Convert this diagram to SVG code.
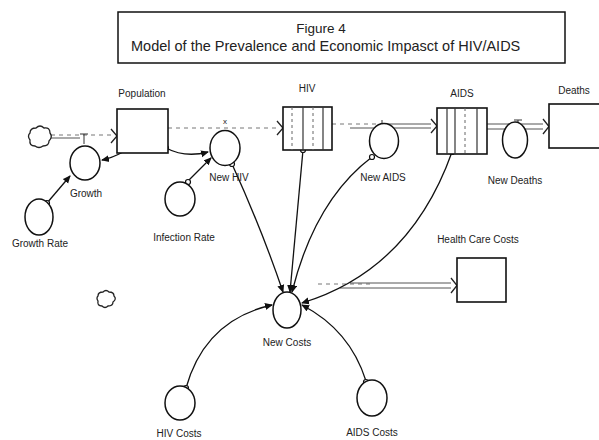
<svg xmlns="http://www.w3.org/2000/svg" width="599" height="440" viewBox="0 0 599 440">
<style>
text{font-family:"Liberation Sans",Arial,sans-serif;fill:#222}
.lbl{font-size:10px;text-anchor:middle}
.stock{fill:#fff;stroke:#111;stroke-width:1.6}
.aux{fill:#fff;stroke:#111;stroke-width:1.5}
.cv{stroke:#333;stroke-width:1.2}
.cvd{stroke:#666;stroke-width:1;stroke-dasharray:3 3}
.con{fill:none;stroke:#111;stroke-width:1.3;marker-end:url(#ah)}
.dot{fill:#fff;stroke:#111;stroke-width:1.2}
.pipe{fill:none;stroke:#555;stroke-width:1}
.pd{fill:none;stroke:#777;stroke-width:1;stroke-dasharray:4 4}
.ph{fill:#fff;stroke:#222;stroke-width:1.3}
.cloud{fill:#fff;stroke:#222;stroke-width:1.3}
</style>
<defs>
<marker id="ah" markerWidth="8" markerHeight="8" refX="7" refY="4" orient="auto" markerUnits="userSpaceOnUse">
<path d="M0,0.5 L8,4 L0,7.5 Z" fill="#111"/>
</marker>
</defs>

<g id="title">
<rect x="118" y="12" width="447" height="51" fill="#fff" stroke="#111" stroke-width="1.5"/>
<text x="321" y="33" font-size="13.5" text-anchor="middle">Figure 4</text>
<text x="131" y="51" font-size="14.5">Model of the Prevalence and Economic Impasct of HIV/AIDS</text>
</g>

<g id="flows">
<line class="pd" x1="51" y1="135" x2="112" y2="135"/>
<line class="pipe" x1="51" y1="138" x2="80" y2="138"/>
<path class="ph" d="M111,129 L117,136 L111,143"/>
<line x1="84" y1="134" x2="84" y2="144" stroke="#333"/>
<line x1="80" y1="134" x2="88" y2="134" stroke="#333"/>
<line class="pd" x1="168" y1="128" x2="277" y2="128"/>
<path class="ph" d="M277,121 L283,128 L277,135"/>
<text x="225" y="124" font-size="8" text-anchor="middle">x</text>
<line class="pd" x1="332" y1="124" x2="380" y2="124"/>
<line class="pipe" x1="380" y1="124" x2="431" y2="124"/>
<line class="pipe" x1="350" y1="128" x2="431" y2="128"/>
<path class="ph" d="M431,119 L437,126 L431,133"/>
<line x1="382" y1="120" x2="382" y2="126" stroke="#333"/>
<line class="pipe" x1="487" y1="124" x2="543" y2="124"/>
<line class="pipe" x1="487" y1="129" x2="543" y2="129"/>
<path class="ph" d="M543,119 L549,126.5 L543,134"/>
<line x1="518" y1="120" x2="518" y2="124" stroke="#333"/>
<line x1="514" y1="120" x2="522" y2="120" stroke="#333"/>
<line class="pd" x1="318" y1="284" x2="370" y2="284"/>
<line class="pipe" x1="350" y1="283" x2="451" y2="283"/>
<line class="pipe" x1="340" y1="288" x2="451" y2="288"/>
<path class="ph" d="M451,278 L457,285.5 L451,293"/>
</g>

<g id="clouds">
<path class="cloud" d="M36,128 q4,-4 8,0 q6,-1 6,5 q3,4 -1,8 q0,5 -6,5 q-4,3 -8,0 q-6,0 -5,-6 q-3,-4 0,-7 q0,-5 6,-5 z"/>
<path class="cloud" d="M103,292 q3,-3 6,0 q5,0 5,4 q3,3 -1,6 q0,4 -5,4 q-3,3 -6,0 q-5,0 -4,-5 q-2,-3 0,-5 q0,-4 5,-4 z"/>
</g>

<g id="connectors">
<path class="con" d="M47,203 L70,176"/>
<path class="con" d="M123,152 Q112,158 102,160"/>
<path class="con" d="M166,148 Q185,158 208,152"/>
<path class="con" d="M187,182 L211,158"/>
<path class="con" d="M232,164 Q262,230 283,292"/>
<path class="con" d="M303,150 L290,292"/>
<path class="con" d="M372,157 Q315,200 292,292"/>
<path class="con" d="M452,152 Q410,270 302,303"/>
<path class="con" d="M186,388 Q205,320 272,305"/>
<path class="con" d="M366,381 Q350,330 302,305"/>
<circle class="dot" cx="47" cy="203" r="2.5"/>
<circle class="dot" cx="123" cy="150" r="2.5"/>
<circle class="dot" cx="166" cy="148" r="2.5"/>
<circle class="dot" cx="188" cy="182" r="2.5"/>
<circle class="dot" cx="232" cy="164" r="2.5"/>
<circle class="dot" cx="303" cy="150" r="2.5"/>
<circle class="dot" cx="372" cy="157" r="2.5"/>
<circle class="dot" cx="452" cy="152" r="2.5"/>
<circle class="dot" cx="186" cy="388" r="2.5"/>
<circle class="dot" cx="366" cy="382" r="2.5"/>
</g>

<g id="population">
<rect class="stock" x="117" y="109" width="51" height="44"/>
<text class="lbl" x="142" y="97">Population</text>
</g>
<g id="hiv">
<rect class="stock" x="283" y="107" width="49" height="43"/>
<line class="cvd" x1="292" y1="107" x2="292" y2="150"/>
<line class="cv" x1="303" y1="107" x2="303" y2="150"/>
<line class="cvd" x1="313" y1="107" x2="313" y2="150"/>
<line class="cv" x1="323" y1="107" x2="323" y2="150"/>
<text class="lbl" x="307" y="92">HIV</text>
</g>
<g id="aids">
<rect class="stock" x="437" y="108" width="50" height="46"/>
<line class="cv" x1="447" y1="108" x2="447" y2="154"/>
<line class="cv" x1="455" y1="108" x2="455" y2="154"/>
<line class="cvd" x1="465" y1="108" x2="465" y2="154"/>
<line class="cv" x1="477" y1="108" x2="477" y2="154"/>
<text class="lbl" x="462" y="97">AIDS</text>
</g>
<g id="deaths">
<rect class="stock" x="549" y="104" width="60" height="44"/>
<text class="lbl" x="574" y="94">Deaths</text>
</g>
<g id="health-care-costs">
<rect class="stock" x="457" y="258" width="49" height="44"/>
<text class="lbl" x="478" y="243">Health Care Costs</text>
</g>

<g id="growth">
<ellipse class="aux" cx="85" cy="163" rx="15" ry="17"/>
<text class="lbl" x="86" y="197">Growth</text>
</g>
<g id="growth-rate">
<ellipse class="aux" cx="39" cy="217" rx="14" ry="18"/>
<text class="lbl" x="40" y="247">Growth Rate</text>
</g>
<g id="new-hiv">
<ellipse class="aux" cx="225" cy="148" rx="15" ry="17.5"/>
<text class="lbl" x="229" y="181">New HIV</text>
</g>
<g id="infection-rate">
<ellipse class="aux" cx="180" cy="199" rx="15" ry="17"/>
<text class="lbl" x="184" y="241">Infection Rate</text>
</g>
<g id="new-aids">
<ellipse class="aux" cx="384" cy="141" rx="14.5" ry="17.5"/>
<text class="lbl" x="383" y="181">New AIDS</text>
</g>
<g id="new-deaths">
<ellipse class="aux" cx="515" cy="140" rx="12.5" ry="18"/>
<text class="lbl" x="515" y="184">New Deaths</text>
</g>
<g id="new-costs">
<ellipse class="aux" cx="287" cy="310" rx="14" ry="18"/>
<text class="lbl" x="287" y="346">New Costs</text>
</g>
<g id="hiv-costs">
<ellipse class="aux" cx="180" cy="403" rx="15" ry="17"/>
<text class="lbl" x="179" y="437">HIV Costs</text>
</g>
<g id="aids-costs">
<ellipse class="aux" cx="372" cy="398" rx="15" ry="18"/>
<text class="lbl" x="372" y="436">AIDS Costs</text>
</g>
</svg>
